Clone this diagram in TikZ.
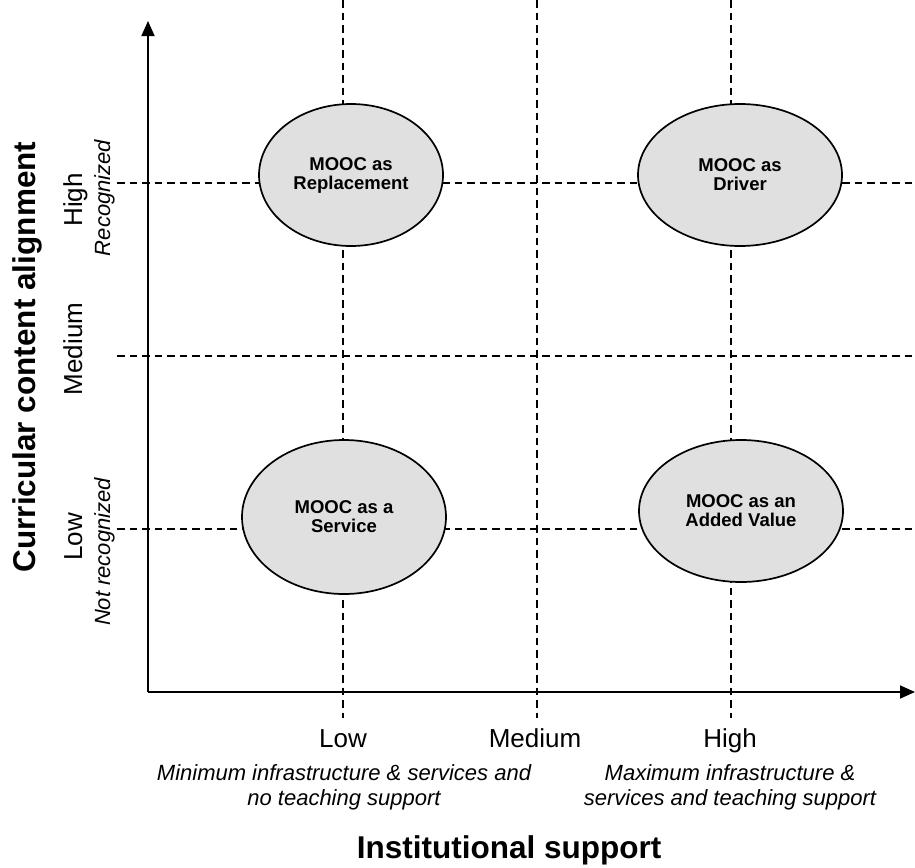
\documentclass[tikz,border=0pt]{standalone}
\usepackage{fontspec}
\setmainfont{Liberation Sans}
\usetikzlibrary{arrows.meta,shapes.geometric}

\begin{document}
\begin{tikzpicture}[x=0.5pt, y=-0.5pt, >={Triangle[length=7.5pt,width=6.5pt]},
    gridline/.style={dash pattern=on 3.75pt off 2.5pt, line width=0.6pt},
    axisline/.style={->, line width=0.85pt},
    quadrant/.style={ellipse, draw, line width=0.85pt, fill=quadgray, inner sep=0pt,
      align=center, font=\fontsize{9.25}{9.5}\selectfont\bfseries},
    ticklab/.style={anchor=base, font=\fontsize{13}{15}\selectfont},
    desclab/.style={align=center, font=\fontsize{11}{12.5}\selectfont\itshape},
    axistitle/.style={anchor=base, font=\fontsize{15.75}{18}\selectfont\bfseries}]
    \definecolor{quadgray}{RGB}{224,224,224}
    \useasboundingbox (0,0) rectangle (915,867);

    % dashed grid: low / medium / high on both axes
    \draw[gridline] (343,0) -- (343,718);
    \draw[gridline] (537,0) -- (537,718);
    \draw[gridline] (731,0) -- (731,718);
    \draw[gridline] (117,183) -- (915,183);
    \draw[gridline] (117,356) -- (915,356);
    \draw[gridline] (117,529) -- (915,529);

    % axes
    \coordinate (origin) at (148,692);
    \coordinate (ytip) at (148,21);
    \coordinate (xtip) at (915,692);
    \draw[axisline] (origin) -- (ytip);
    \draw[axisline] (origin) -- (xtip);

    % the four MOOC roles
    \node[quadrant, minimum width=92pt, minimum height=71pt] (replacement) at (351,175) {MOOC as\\Replacement};
    \node[quadrant, minimum width=102pt, minimum height=71pt] (driver) at (740,175) {MOOC as\\Driver};
    \node[quadrant, minimum width=102pt, minimum height=77pt] (service) at (344,517) {MOOC as a\\Service};
    \node[quadrant, minimum width=102pt, minimum height=71pt] (addedvalue) at (741,511) {MOOC as an\\Added Value};

    % vertical axis labels
    \node[axistitle, rotate=90] (ytitle) at (35,357) {Curricular content alignment};
    \node[ticklab, rotate=90] (yhigh) at (82,200) {High};
    \node[desclab, anchor=base, rotate=90] (yhighdesc) at (110,198) {Recognized};
    \node[ticklab, rotate=90] (ymed) at (82,349) {Medium};
    \node[ticklab, rotate=90] (ylow) at (82,537) {Low};
    \node[desclab, anchor=base, rotate=90] (ylowdesc) at (110,552) {Not recognized};

    % horizontal axis labels
    \node[ticklab] (xlow) at (343,747) {Low};
    \node[ticklab] (xmed) at (535,747) {Medium};
    \node[ticklab] (xhigh) at (730,747) {High};
    \node[desclab, anchor=north] (xlowdesc) at (344,757) {Minimum infrastructure \& services and\\no teaching support};
    \node[desclab, anchor=north] (xhighdesc) at (730,757) {Maximum infrastructure \&\\services and teaching support};
    \node[axistitle] (xtitle) at (509,858) {Institutional support};
  \end{tikzpicture}
\end{document}
